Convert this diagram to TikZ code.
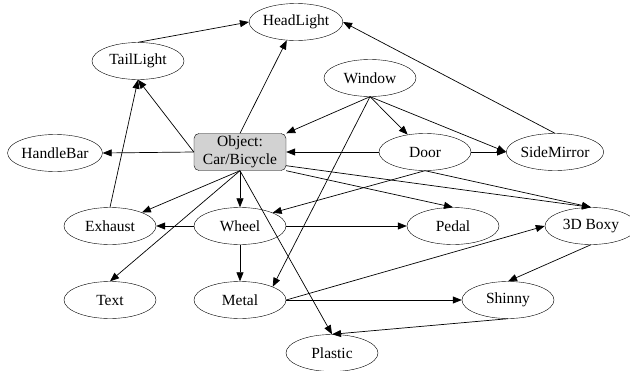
\documentclass[tikz,border=0pt]{standalone}
\usepackage{fontspec}
\setmainfont{Liberation Serif}
\usetikzlibrary{shapes,arrows.meta}
\tikzset{
         part/.style={draw,ellipse,minimum width=92pt,minimum height=37pt,inner sep=0pt,
                      font=\fontsize{15.5}{18}\selectfont},
         object/.style={draw,rounded corners=5pt,fill=gray!35,minimum width=92pt,minimum height=37pt,
                        inner sep=0pt,align=center,font=\fontsize{15.5}{18}\selectfont},
         link/.style={line width=0.7pt,-{Triangle[length=9pt,width=7pt]}}
        }
\begin{document}
\begin{tikzpicture}[x=1pt,y=-1pt]
      \useasboundingbox (0,0) rectangle (630,370); % page
      \node[part] (head) at (296,22) {HeadLight}; % top row
      \node[part] (tail) at (138,61) {TailLight};
      \node[part] (window) at (370,78) {Window};
      \node[part] (handle) at (55,153) {HandleBar}; % middle row
      \node[object] (obj) at (240,152) {Object:\\Car/Bicycle};
      \node[part] (door) at (425,152) {Door};
      \node[part] (mirror) at (555,152) {SideMirror};
      \node[part] (exhaust) at (110,226) {Exhaust}; % wheel row
      \node[part] (wheel) at (240,226) {Wheel};
      \node[part] (pedal) at (453,226) {Pedal};
      \node[part] (boxy) at (591,226) {3D Boxy};
      \node[part] (txt) at (110,300) {Text}; % metal row
      \node[part] (metal) at (240,300) {Metal};
      \node[part] (shinny) at (508,300) {Shinny};
      \node[part] (plastic) at (332,353) {Plastic}; % bottom
      % lights
      \draw[link] (tail.north) -- (head.west);
      \draw[link] (obj.north) -- (head);
      \draw[link] (mirror.north) -- (head.east);
      \draw[link] (obj.west) -- (tail.south);
      \draw[link] (exhaust.north) -- (tail.south);
      % window and door
      \draw[link] (window.south) -- (obj.north east);
      \draw[link] (window.south) -- (door);
      \draw[link] (window.south) -- (mirror.west);
      \draw[link] (window.south) -- (metal.north east);
      \draw[link] (door.west) -- (obj.east);
      \draw[link] (door.east) -- (mirror.west);
      \draw[link] (door.south) -- (wheel.north east);
      \draw[link] (door.south) -- (boxy.north);
      % object
      \draw[link] (obj.west) -- (handle.east);
      \draw[link] (obj.south) -- (exhaust);
      \draw[link] (obj.south) -- (txt.north);
      \draw[link] (obj.south) -- (wheel.north);
      \draw[link] (obj.south) -- (plastic.north);
      \draw[link] (obj.south east) -- (pedal.north);
      \draw[link] ([yshift=5pt]obj.south east) -- (boxy.north);
      % wheel and metal
      \draw[link] (wheel.west) -- (exhaust.east);
      \draw[link] (wheel.east) -- (pedal.west);
      \draw[link] (wheel.south) -- (metal.north);
      \draw[link] (metal.east) -- (boxy.west);
      \draw[link] (metal.east) -- (shinny.west);
      \draw[link] (boxy.south) -- (shinny.north);
      \draw[link] (shinny.south) -- (plastic.north);
\end{tikzpicture}
\end{document}
